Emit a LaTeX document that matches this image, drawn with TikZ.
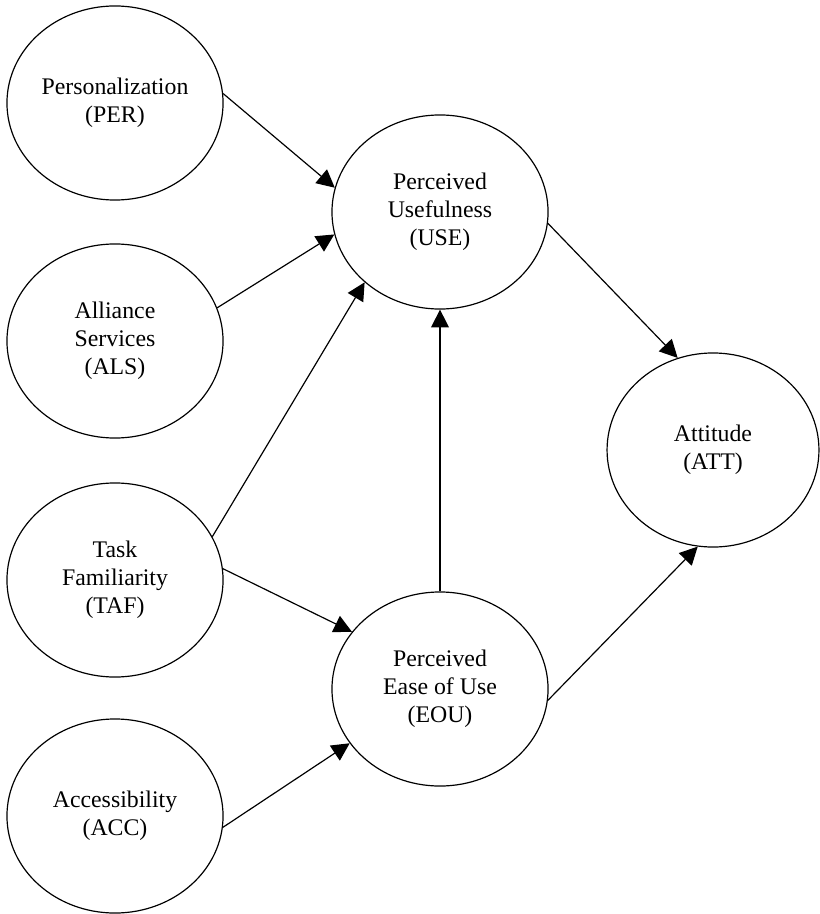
\documentclass[tikz,border=0pt]{standalone}
\usepackage{fontspec}
\setmainfont{Liberation Serif}
\usetikzlibrary{shapes.geometric,arrows.meta}

\tikzset{
  construct/.style={draw, ellipse, line width=0.6pt, inner sep=0pt,
    minimum width=108.9pt, minimum height=97.8pt, align=center,
    font=\fontsize{12}{14.1}\selectfont},
  link/.style={-{Triangle[length=9pt,width=9pt]}, line width=0.6pt}
}

\begin{document}
\begin{tikzpicture}
    [x=0.504pt, y=-0.504pt]
    \useasboundingbox (0,0) rectangle (820,914);
    \node[construct] (PER) at (115,103) {Personalization\\(PER)};
    \node[construct] (ALS) at (115,341) {Alliance\\Services\\(ALS)};
    \node[construct] (TAF) at (115,580) {Task\\Familiarity\\(TAF)};
    \node[construct] (ACC) at (115,816) {Accessibility\\(ACC)};
    \node[construct] (USE) at (440,212) {Perceived\\Usefulness\\(USE)};
    \node[construct] (EOU) at (440,689) {Perceived\\Ease of Use\\(EOU)};
    \node[construct, minimum width=106.8pt] (ATT) at (713,450) {Attitude\\(ATT)};

    \draw[link] (PER.5) -- (USE.167);
    \draw[link] (ALS.18) -- (USE.192);
    \draw[link] (TAF.24) -- (USE.223);
    \draw[link] (TAF.6) -- (EOU.147);
    \draw[link] (ACC.354) -- (EOU.211);
    \draw[link] (EOU.north) -- (USE.south);
    \draw[link] (USE.354) -- (ATT.111);
    \draw[link] (EOU.354) -- (ATT.261);
  \end{tikzpicture}
\end{document}
